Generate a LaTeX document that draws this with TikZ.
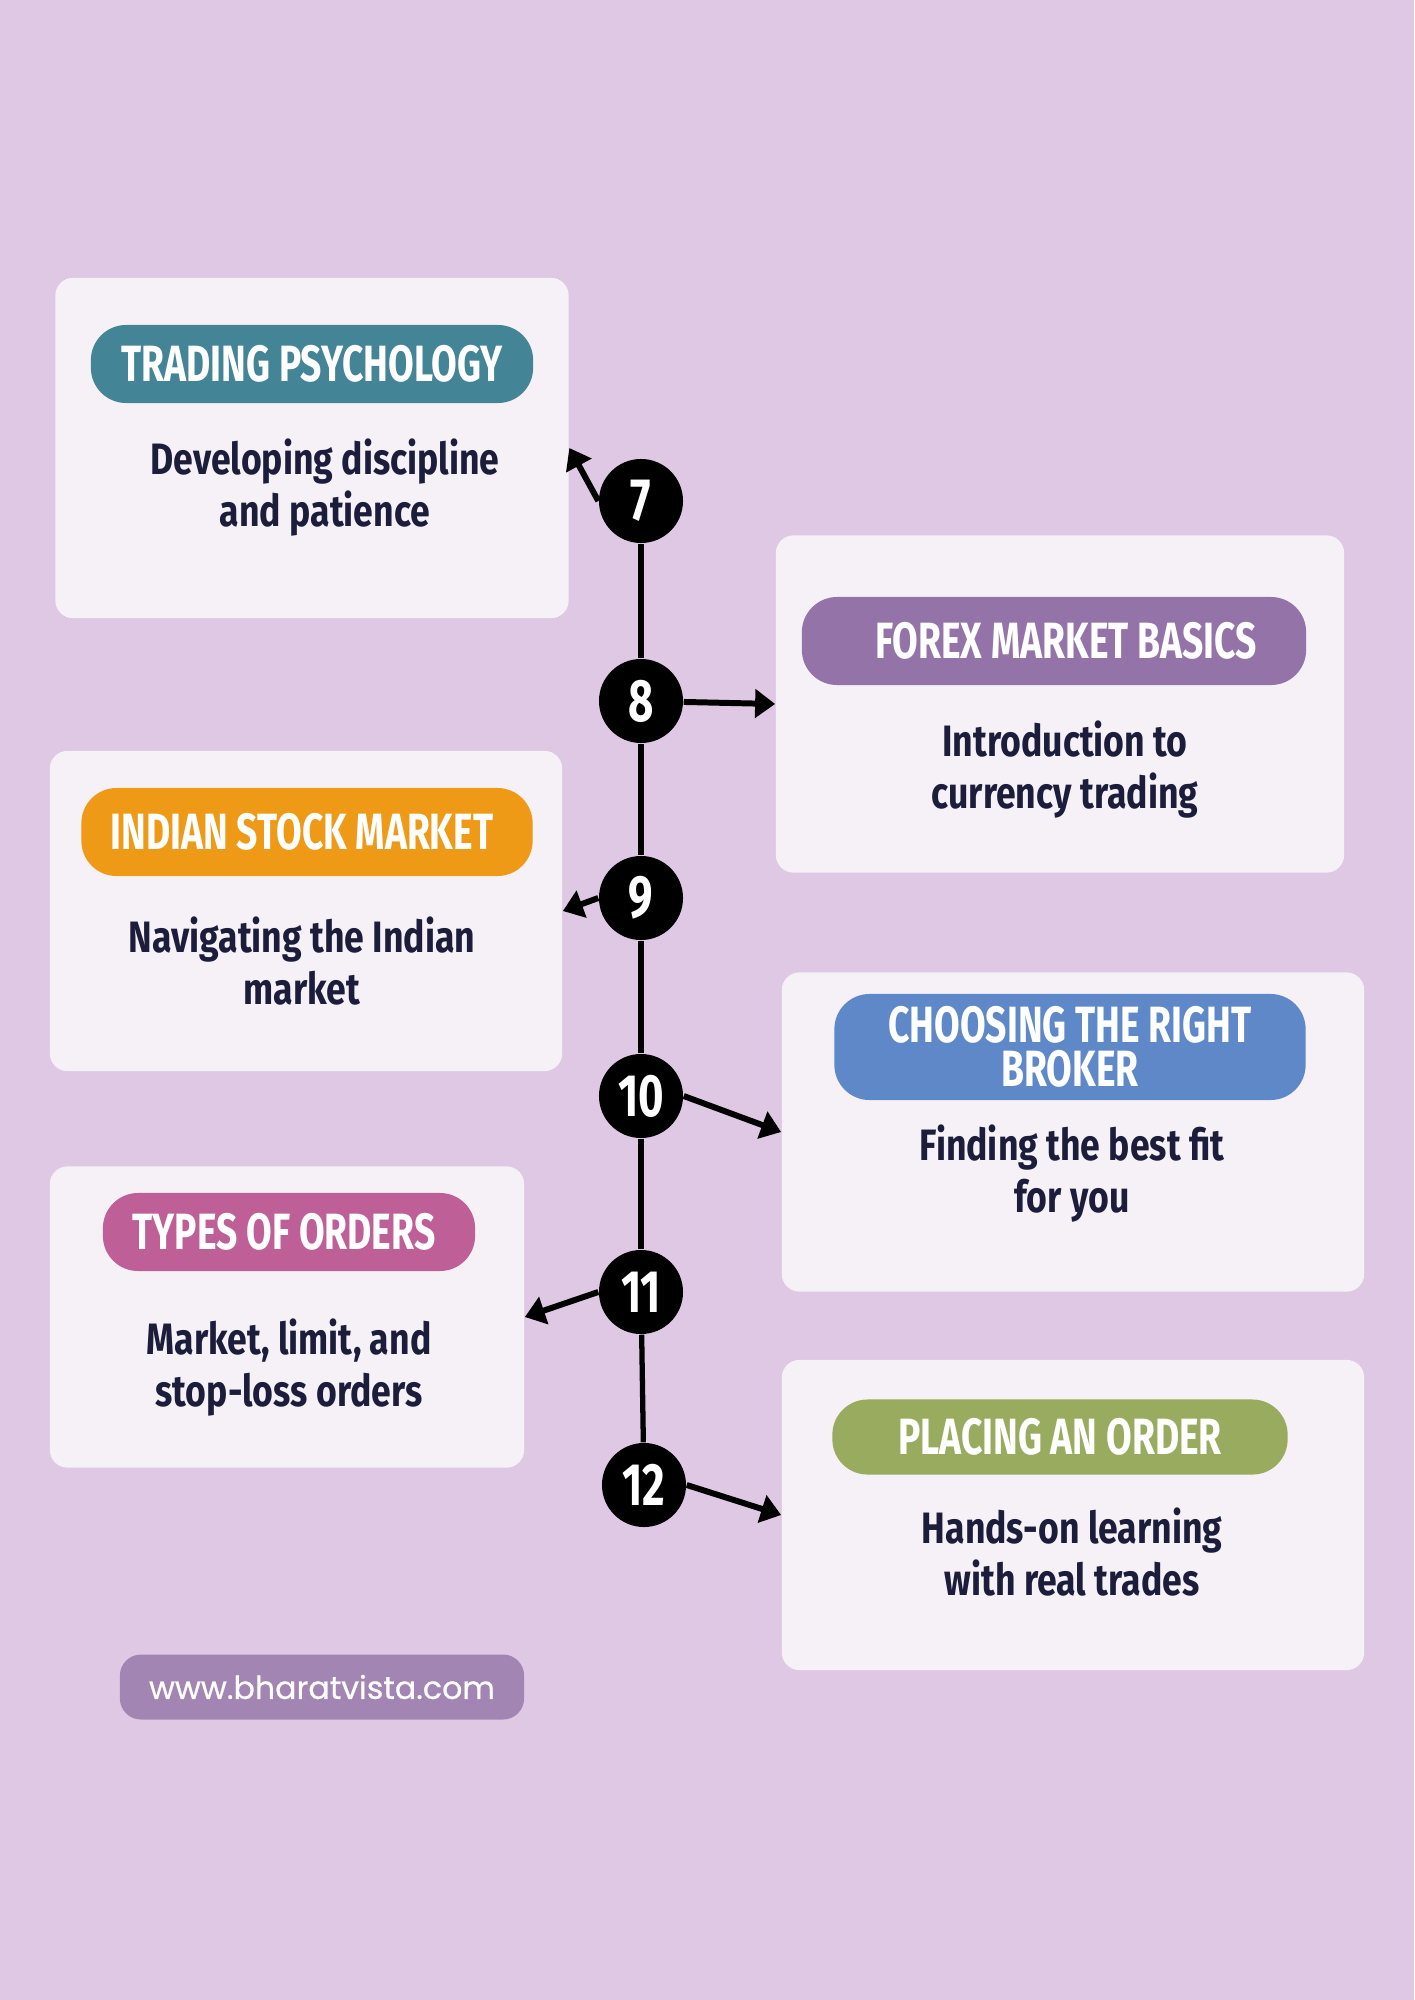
\documentclass[tikz,border=0pt]{standalone}
\usepackage{fontspec}
\setmainfont{Fira Sans}
\newfontfamily\headfont[FakeStretch=0.73]{Fira Sans}
\newfontfamily\bodyfont[FakeStretch=0.81]{Fira Sans}
\newfontfamily\webfont[FakeBold=0.6]{Poppins}
\usepackage{tikz}
\usetikzlibrary{positioning, arrows.meta}
\usepackage{xcolor}
\definecolor{bgpurple}{HTML}{DFC8E4}
\definecolor{cardfill}{HTML}{F6F1F7}
\definecolor{navy}{HTML}{1B1D3A}
\definecolor{tealhead}{HTML}{438596}
\definecolor{purplehead}{HTML}{9373A8}
\definecolor{orangehead}{HTML}{EE9A17}
\definecolor{bluehead}{HTML}{5F88C9}
\definecolor{pinkhead}{HTML}{BF5F98}
\definecolor{greenhead}{HTML}{98AB5F}
\definecolor{footpurple}{HTML}{A385B3}

\begin{document}
\begin{tikzpicture}[
    x=0.01cm, y=-0.01cm,
    every node/.style={font=\bodyfont},
    card/.style={
        rounded corners=5pt,
        fill=cardfill,
        inner sep=0pt,
    },
    pill/.style={
        rounded corners=10pt,
        fill=#1,
        text=white,
        font=\headfont\bfseries\fontsize{14.5}{12.6}\selectfont,
        align=center,
        inner sep=0pt,
    },
    desc/.style={
        text=navy,
        font=\bodyfont\bfseries\fontsize{12.5}{14.8}\selectfont,
        align=center,
    },
    numdot/.style={
        circle,
        fill=black,
        text=white,
        minimum size=0.84cm,
        inner sep=0pt,
        font=\headfont\bfseries\fontsize{17}{17}\selectfont,
    },
    arr/.style={-{Triangle[length=2mm, width=2.8mm]}, line width=1.7pt, black},
]

% background and page size
\fill[bgpurple] (0,0) rectangle (1414,2000);
\useasboundingbox (0,0) rectangle (1414,2000);

% Cards
\node[card, minimum width=5.13cm, minimum height=3.40cm] (psycard) at (312,448) {};
\node[card, minimum width=5.68cm, minimum height=3.37cm] (forexcard) at (1060,704) {};
\node[card, minimum width=5.12cm, minimum height=3.20cm] (indiacard) at (306,911) {};
\node[card, minimum width=5.82cm, minimum height=3.19cm] (brokercard) at (1073,1132) {};
\node[card, minimum width=4.74cm, minimum height=3.01cm] (ordercard) at (287,1317) {};
\node[card, minimum width=5.82cm, minimum height=3.10cm] (placecard) at (1073,1515) {};

% Titles
\node[pill=tealhead, minimum width=4.42cm, minimum height=0.78cm] (psytitle) at (312,364) {TRADING PSYCHOLOGY};
\node[pill=purplehead, minimum width=5.04cm, minimum height=0.88cm] (forextitle) at (1054,641) {\hspace{0.24cm}FOREX MARKET BASICS};
\node[pill=orangehead, minimum width=4.51cm, minimum height=0.88cm] (indiatitle) at (307,832) {INDIAN STOCK MARKET\hspace{0.1cm}};
\node[pill=bluehead, minimum width=4.71cm, minimum height=1.06cm] (brokertitle) at (1070,1047) {CHOOSING THE RIGHT\\BROKER};
\node[pill=pinkhead, minimum width=3.72cm, minimum height=0.78cm] (ordertitle) at (289,1232) {TYPES OF ORDERS\hspace{0.1cm}};
\node[pill=greenhead, minimum width=4.55cm, minimum height=0.75cm] (placetitle) at (1060,1437) {PLACING AN ORDER};

% Descriptions
\node[desc] (psytext) at (325,488) {Developing discipline\\and patience};
\node[desc] (forextext) at (1065,770) {Introduction to\\currency trading};
\node[desc] (indiatext) at (302,961) {Navigating the Indian\\market};
\node[desc] (brokertext) at (1072,1174) {Finding the best fit\\for you};
\node[desc] (ordertext) at (289,1368) {Market, limit, and\\stop-loss orders};
\node[desc] (placetext) at (1072,1552) {Hands-on learning\\with real trades};

% Timeline
\node[numdot] (n7) at (641,501) {7};
\node[numdot] (n8) at (641,701) {8};
\node[numdot] (n9) at (641,898) {9};
\node[numdot] (n10) at (641,1096) {10};
\node[numdot] (n11) at (641,1292) {11};
\node[numdot] (n12) at (644,1485) {12};

\foreach \a/\b in {7/8, 8/9, 9/10, 10/11, 11/12}
    \draw[line width=1.5pt] (n\a) -- (n\b);

% Arrows to the cards
\draw[arr] (n7.west) -- (psycard.east);
\draw[arr] (n8) -- (forexcard.west);
\draw[arr] (n9.west) -- (indiacard.east);
\draw[arr] (n10.east) -- (brokercard.west);
\draw[arr] (n11.west) -- (ordercard.east);
\draw[arr] (n12.east) -- (placecard.west);

% Footer
\node[rounded corners=6pt, fill=footpurple, text=white, minimum width=4.04cm, minimum height=0.65cm,
      font=\webfont\fontsize{9}{11}\selectfont] (website) at (322,1687) {www.bharatvista.com};

\end{tikzpicture}
\end{document}
